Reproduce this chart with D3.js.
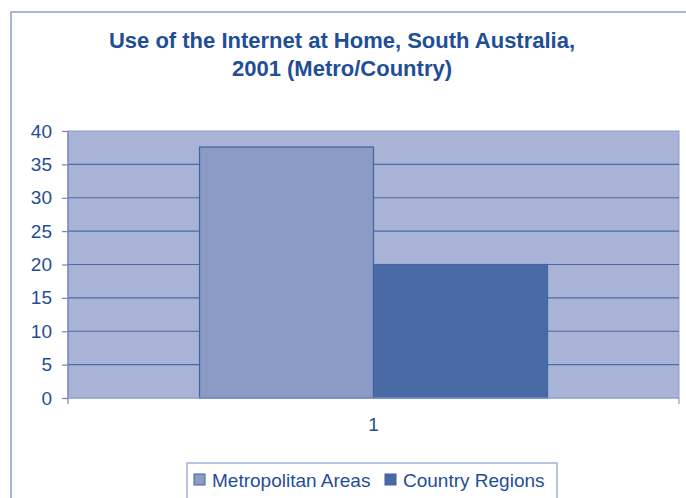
<!DOCTYPE html>
<html>
<head>
<meta charset="utf-8">
<script src="https://cdn.jsdelivr.net/npm/d3@7"></script>
<style>
    body { margin: 0; background: #fff; }
    svg { display: block; font-family: "Liberation Sans", Arial, sans-serif; }
</style>
</head>
<body>
<svg id="chart" width="686" height="498"></svg>
<script>
// Chart data
const categories = ['1'];
const seriesNames = ['Metropolitan Areas', 'Country Regions'];
const seriesValues = [37.6, 20];
const yTicks = [0, 5, 10, 15, 20, 25, 30, 35, 40];
const titleLines = ['Use of the Internet at Home, South Australia,', '2001 (Metro/Country)'];

const colors = ['#8b9bc6', '#4a6aa5'];
const textColor = '#1f4e96';
const gridColor = '#4a6aa8';

const svg = d3.select('#chart');

// Outer chart border (only top and left visible)
svg.append('path')
    .attr('d', 'M11,500 V12 H690')
    .attr('fill', 'none')
    .attr('stroke', '#8d9dcb')
    .attr('stroke-width', 1.5);

// Title
svg.append('text')
    .attr('x', 342).attr('y', 48)
    .attr('text-anchor', 'middle')
    .attr('fill', textColor)
    .attr('font-weight', 'bold')
    .attr('font-size', 22)
    .selectAll('tspan').data(titleLines).enter().append('tspan')
    .attr('x', 342)
    .attr('dy', (d, i) => i === 0 ? 0 : 28)
    .text(d => d);

// Plot area
const plot = { left: 68, right: 679, top: 131, bottom: 398 };

const yScale = d3.scaleLinear().domain([0, 40]).range([plot.bottom, plot.top]);
const x0 = d3.scaleBand().domain(categories).range([plot.left, plot.right]).paddingOuter(0.378).paddingInner(0);
const x1 = d3.scaleBand().domain(seriesNames).range([0, x0.bandwidth()]).padding(0);

svg.append('rect')
    .attr('x', plot.left).attr('y', plot.top)
    .attr('width', plot.right - plot.left).attr('height', plot.bottom - plot.top)
    .attr('fill', '#a9b3d6')
    .attr('stroke', '#8d9dcb')
    .attr('stroke-width', 1);

// Gridlines
svg.append('g').selectAll('line').data(yTicks.filter(d => d > 0 && d < 40)).enter().append('line')
    .attr('x1', plot.left).attr('x2', plot.right)
    .attr('y1', d => yScale(d)).attr('y2', d => yScale(d))
    .attr('stroke', gridColor)
    .attr('stroke-width', 1.2);

// Bars
const groups = svg.append('g').selectAll('g').data(categories).enter().append('g')
    .attr('transform', d => `translate(${x0(d)},0)`);

groups.selectAll('rect')
    .data(() => seriesNames.map((name, i) => ({ name, value: seriesValues[i], color: colors[i] })))
    .enter().append('rect')
    .attr('x', d => x1(d.name))
    .attr('y', d => yScale(d.value))
    .attr('width', x1.bandwidth())
    .attr('height', d => yScale(0) - yScale(d.value))
    .attr('fill', d => d.color)
    .attr('stroke', '#3f64a3')
    .attr('stroke-width', 1.2);

// Y axis
const yAxis = svg.append('g')
    .attr('transform', `translate(${plot.left},0)`)
    .call(d3.axisLeft(yScale).tickValues(yTicks).tickSize(6).tickPadding(10));
yAxis.select('.domain').attr('d', `M0,${plot.top}V${plot.bottom + 6}`).attr('stroke', '#6f86bb').attr('stroke-width', 1.2);
yAxis.selectAll('.tick line').attr('stroke', '#6f86bb').attr('stroke-width', 1.2);
yAxis.selectAll('.tick text')
    .attr('fill', textColor)
    .attr('font-size', 19)
    .attr('font-family', '"Liberation Sans", Arial, sans-serif');

// X axis
const xAxis = svg.append('g')
    .attr('transform', `translate(0,${plot.bottom})`)
    .call(d3.axisBottom(x0).tickSize(0).tickPadding(20));
xAxis.select('.domain').attr('d', `M${plot.left},0H${plot.right}`).attr('stroke', '#8d9dcb').attr('stroke-width', 1.2);
xAxis.append('line')
    .attr('x1', plot.right).attr('x2', plot.right)
    .attr('y1', 0).attr('y2', 6)
    .attr('stroke', '#8d9dcb').attr('stroke-width', 1.2);
xAxis.selectAll('.tick text')
    .attr('fill', textColor)
    .attr('font-size', 19)
    .attr('font-family', '"Liberation Sans", Arial, sans-serif');

// Legend
const legend = svg.append('g');
legend.append('rect')
    .attr('x', 187).attr('y', 463)
    .attr('width', 370).attr('height', 40)
    .attr('fill', '#fff')
    .attr('stroke', '#8d9dcb')
    .attr('stroke-width', 1.2);

const legendX = [194, 385];
const items = legend.selectAll('g.item').data(seriesNames).enter().append('g')
    .attr('class', 'item')
    .attr('transform', (d, i) => `translate(${legendX[i]},0)`);
items.append('rect')
    .attr('x', 0).attr('y', 474)
    .attr('width', 11).attr('height', 11)
    .attr('fill', (d, i) => colors[i])
    .attr('stroke', '#3f64a3')
    .attr('stroke-width', 1);
items.append('text')
    .attr('x', 18).attr('y', 487)
    .attr('fill', textColor)
    .attr('font-size', 19)
    .text(d => d);
</script>
</body>
</html>
